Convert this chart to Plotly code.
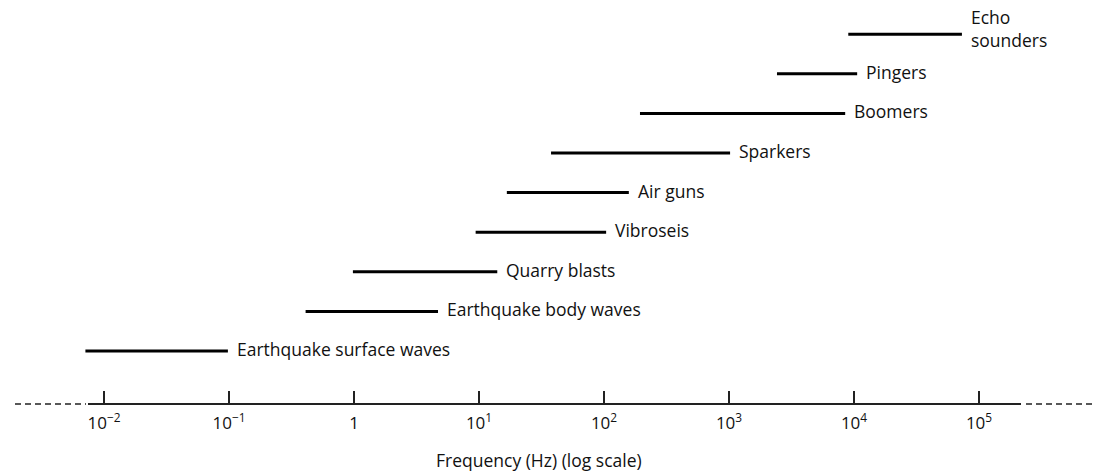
import math
import plotly.graph_objects as go

# Frequency bands of seismic sources (Hz), bottom to top
sources = [
    "Earthquake surface waves",
    "Earthquake body waves",
    "Quarry blasts",
    "Vibroseis",
    "Air guns",
    "Sparkers",
    "Boomers",
    "Pingers",
    "Echo<br>sounders",
]
f_low = [0.0071, 0.41, 0.98, 9.4, 16.7, 37.7, 194, 2420, 9000]
f_high = [0.098, 4.7, 14.0, 104, 158, 1020, 8500, 10600, 73000]

tick_vals = [1e-2, 1e-1, 1, 1e1, 1e2, 1e3, 1e4, 1e5]
tick_text = ["10<sup>−2</sup>", "10<sup>−1</sup>", "1", "10<sup>1</sup>",
             "10<sup>2</sup>", "10<sup>3</sup>", "10<sup>4</sup>", "10<sup>5</sup>"]

FONT = "Open Sans"
INK = "#111111"
W, H = 1093, 473

fig = go.Figure()
for i, (lo, hi) in enumerate(zip(f_low, f_high)):
    fig.add_trace(go.Scatter(
        x=[lo, hi], y=[i, i], mode="lines",
        line=dict(color="black", width=3), showlegend=False, hoverinfo="skip",
    ))

# source names to the right of each band (annotation x is log10 on a log axis)
for i, (name, hi) in enumerate(zip(sources, f_high)):
    fig.add_annotation(
        x=math.log10(hi), y=i, xref="x", yref="y", text=name, showarrow=False,
        xanchor="left", yanchor="middle", align="left", xshift=7,
        yshift=6 if "<br>" in name else 2,
        font=dict(family=FONT, size=17.5, color=INK),
    )

# frequency axis: solid inside the labelled range, dashed beyond it
fig.add_shape(type="line", xref="paper", yref="paper", x0=88 / W, x1=1021 / W, y0=0, y1=0,
              line=dict(color="#222", width=2))
fig.add_shape(type="line", xref="paper", yref="paper", x0=15 / W, x1=86 / W, y0=0, y1=0,
              line=dict(color="#222", width=1.5, dash="6px,4px"))
fig.add_shape(type="line", xref="paper", yref="paper", x0=1026 / W, x1=1, y0=0, y1=0,
              line=dict(color="#222", width=1.5, dash="6px,4px"))

fig.add_annotation(
    x=0.493, y=-0.138, xref="paper", yref="paper", yanchor="middle",
    text="Frequency (Hz) (log scale)", showarrow=False, borderpad=0,
    font=dict(family=FONT, size=17.5, color=INK),
)

fig.update_xaxes(
    type="log", range=[-2.832, 5.912], tickvals=tick_vals, ticktext=tick_text,
    ticks="inside", ticklen=13, tickwidth=2, tickcolor="#222",
    showline=False, showgrid=False, zeroline=False,
    tickfont=dict(family=FONT, size=17, color=INK), ticklabelstandoff=7,
)
fig.update_yaxes(range=[-1.338, 8.864], visible=False, showgrid=False, zeroline=False)

fig.update_layout(
    width=W, height=H, margin=dict(l=0, r=0, t=0, b=69),
    paper_bgcolor="white", plot_bgcolor="white",
)

fig.write_html("out.html")
